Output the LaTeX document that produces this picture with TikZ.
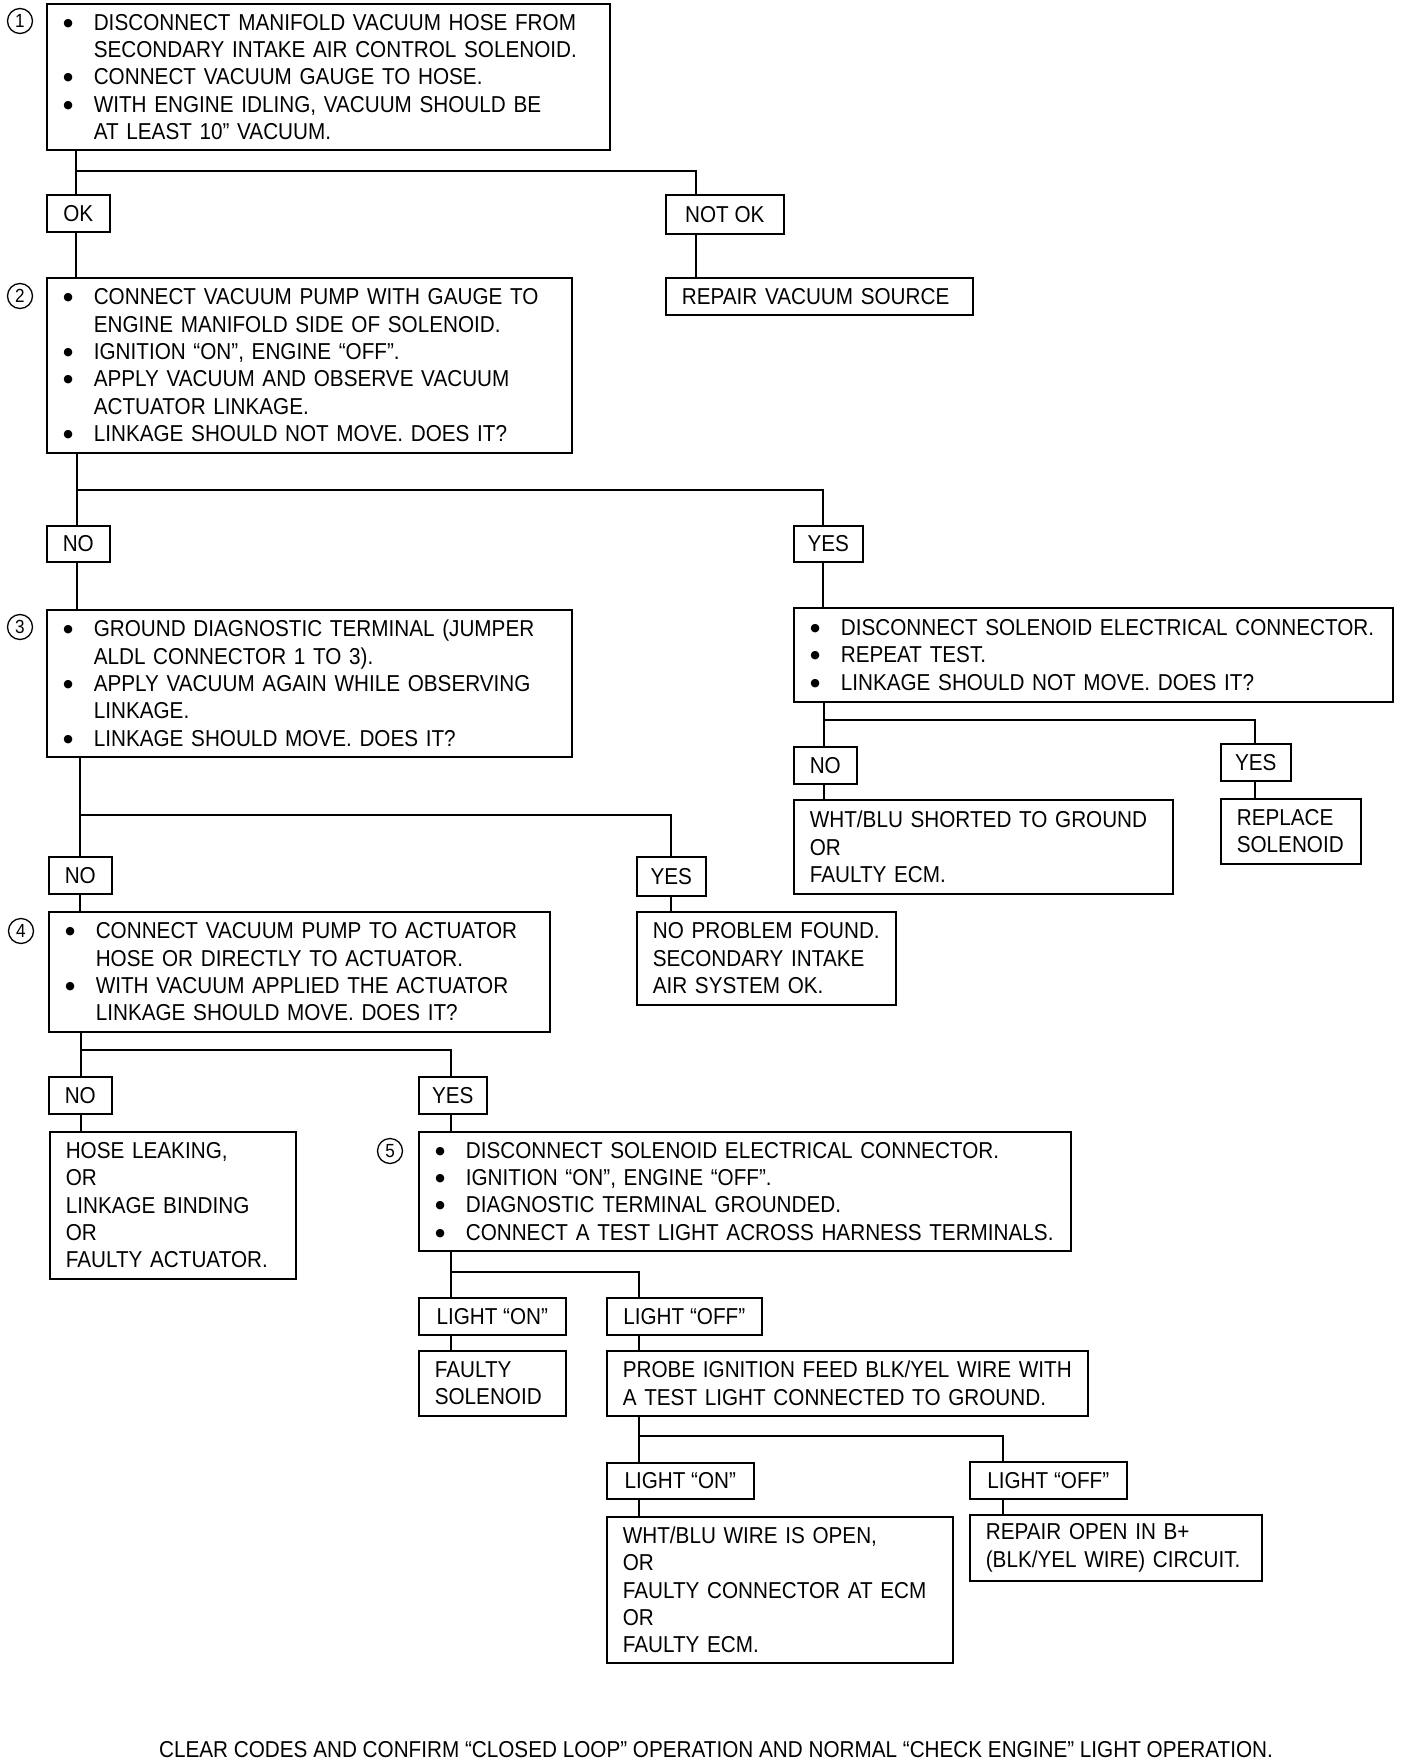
\documentclass[tikz,border=0pt]{standalone}
\usepackage{fontspec}
\setmainfont{Liberation Sans}[FakeStretch=0.9]
\newfontfamily\dvsans{DejaVu Sans}
\setlength{\parindent}{0pt}
\newcommand\bi[1]{\makebox[31pt][l]{\hspace{0.5pt}\raisebox{4pt}{\dvsans\fontsize{11}{11}\selectfont ●}}\mbox{#1}}
\newcommand\ci[1]{\hspace*{31pt}\mbox{#1}}
\newcommand\li[1]{\mbox{#1}}
\tikzset{
  txt/.style={font=\fontsize{23}{27.3}\selectfont},
  box/.style={draw, line width=1.6pt, anchor=north west, inner xsep=16pt, inner ysep=0pt, align=left, txt},
  lbl/.style={draw, line width=1.6pt, anchor=north west, inner sep=0pt, align=center, txt},
  num/.style={draw, circle, line width=1.3pt, minimum size=25pt, inner sep=0pt, font=\fontsize{19}{19}\selectfont},
  conn/.style={line width=1.6pt}
}
\begin{document}
\begin{tikzpicture}[x=1pt,y=-1pt]
\useasboundingbox (0,0) rectangle (1408,1760);
\fill[white] (0,0) rectangle (1408,1760);

% step 1
\node[num] (c1) at (20,21) {1};
\node[box, text width=531pt, minimum height=146pt] (b1) at (46,3) {%
\bi{DISCONNECT MANIFOLD VACUUM HOSE FROM}\\
\ci{SECONDARY INTAKE AIR CONTROL SOLENOID.}\\
\bi{CONNECT VACUUM GAUGE TO HOSE.}\\
\bi{WITH ENGINE IDLING, VACUUM SHOULD BE}\\
\ci{AT LEAST 10” VACUUM.}};
\node[lbl, minimum width=63pt, minimum height=37pt] (ok) at (46,194) {OK};
\node[lbl, minimum width=118pt, minimum height=39pt] (notok) at (665,194) {NOT OK};
\node[box, text width=275pt, minimum height=37pt] (repair) at (665,277) {\li{REPAIR VACUUM SOURCE}};

% step 2
\node[num] (c2) at (20,296) {2};
\node[box, text width=493pt, minimum height=175pt] (b2) at (46,277) {%
\bi{CONNECT VACUUM PUMP WITH GAUGE TO}\\
\ci{ENGINE MANIFOLD SIDE OF SOLENOID.}\\
\bi{IGNITION “ON”, ENGINE “OFF”.}\\
\bi{APPLY VACUUM AND OBSERVE VACUUM}\\
\ci{ACTUATOR LINKAGE.}\\
\bi{LINKAGE SHOULD NOT MOVE. DOES IT?}};
\node[lbl, minimum width=63pt, minimum height=36pt] (no1) at (46,525) {NO};
\node[lbl, minimum width=69pt, minimum height=36pt] (yes1) at (793,525) {YES};

% step 3
\node[num] (c3) at (20,627) {3};
\node[box, text width=493pt, minimum height=147pt] (b3) at (46,609) {%
\bi{GROUND DIAGNOSTIC TERMINAL (JUMPER}\\
\ci{ALDL CONNECTOR 1 TO 3).}\\
\bi{APPLY VACUUM AGAIN WHILE OBSERVING}\\
\ci{LINKAGE.}\\
\bi{LINKAGE SHOULD MOVE. DOES IT?}};

% right branch
\node[box, text width=567pt, minimum height=94pt] (bR) at (793,607) {%
\bi{DISCONNECT SOLENOID ELECTRICAL CONNECTOR.}\\
\bi{REPEAT TEST.}\\
\bi{LINKAGE SHOULD NOT MOVE. DOES IT?}};
\node[lbl, minimum width=63pt, minimum height=37pt] (noR) at (793,746) {NO};
\node[lbl, minimum width=70pt, minimum height=37pt] (yesR) at (1220,743) {YES};
\node[box, text width=347pt, minimum height=94pt] (whtblu) at (793,799) {%
\li{WHT/BLU SHORTED TO GROUND}\\
\li{OR}\\
\li{FAULTY ECM.}};
\node[box, text width=108pt, minimum height=65pt] (replace) at (1220,798) {%
\li{REPLACE}\\
\li{SOLENOID}};

% after step 3
\node[lbl, minimum width=63pt, minimum height=37pt] (no2) at (48,856) {NO};
\node[lbl, minimum width=69pt, minimum height=39pt] (yes2) at (636,856) {YES};
\node[box, text width=227pt, minimum height=93pt] (noprob) at (636,911) {%
\li{NO PROBLEM FOUND.}\\
\li{SECONDARY INTAKE}\\
\li{AIR SYSTEM OK.}};

% step 4
\node[num] (c4) at (21,931) {4};
\node[box, text width=469pt, minimum height=120pt] (b4) at (48,911) {%
\bi{CONNECT VACUUM PUMP TO ACTUATOR}\\
\ci{HOSE OR DIRECTLY TO ACTUATOR.}\\
\bi{WITH VACUUM APPLIED THE ACTUATOR}\\
\ci{LINKAGE SHOULD MOVE. DOES IT?}};
\node[lbl, minimum width=63pt, minimum height=37pt] (no3) at (48,1076) {NO};
\node[lbl, minimum width=68pt, minimum height=37pt] (yes3) at (418,1076) {YES};
\node[box, text width=214pt, minimum height=147pt] (hose) at (49,1131) {%
\li{HOSE LEAKING,}\\
\li{OR}\\
\li{LINKAGE BINDING}\\
\li{OR}\\
\li{FAULTY ACTUATOR.}};

% step 5
\node[num] (c5) at (390,1151) {5};
\node[box, text width=620pt, minimum height=119pt] (b5) at (418,1131) {%
\bi{DISCONNECT SOLENOID ELECTRICAL CONNECTOR.}\\
\bi{IGNITION “ON”, ENGINE “OFF”.}\\
\bi{DIAGNOSTIC TERMINAL GROUNDED.}\\
\bi{CONNECT A TEST LIGHT ACROSS HARNESS TERMINALS.}};
\node[lbl, minimum width=147pt, minimum height=37pt] (lon1) at (418,1297) {LIGHT “ON”};
\node[lbl, minimum width=155pt, minimum height=37pt] (loff1) at (606,1297) {LIGHT “OFF”};
\node[box, text width=115pt, minimum height=65pt] (faulty) at (418,1350) {%
\li{FAULTY}\\
\li{SOLENOID}};
\node[box, text width=449pt, minimum height=65pt] (probe) at (606,1350) {%
\li{PROBE IGNITION FEED BLK/YEL WIRE WITH}\\
\li{A TEST LIGHT CONNECTED TO GROUND.}};
\node[lbl, minimum width=147pt, minimum height=36pt] (lon2) at (606,1462) {LIGHT “ON”};
\node[lbl, minimum width=157pt, minimum height=37pt] (loff2) at (969,1461) {LIGHT “OFF”};
\node[box, text width=314pt, minimum height=146pt] (whtopen) at (606,1516) {%
\li{WHT/BLU WIRE IS OPEN,}\\
\li{OR}\\
\li{FAULTY CONNECTOR AT ECM}\\
\li{OR}\\
\li{FAULTY ECM.}};
\node[box, text width=260pt, minimum height=66pt] (repairopen) at (969,1514) {%
\li{REPAIR OPEN IN B+}\\
\li{(BLK/YEL WIRE) CIRCUIT.}};

\node[txt, anchor=base, inner sep=0pt] (foot) at (716,1757) {CLEAR CODES AND CONFIRM “CLOSED LOOP” OPERATION AND NORMAL “CHECK ENGINE” LIGHT OPERATION.};

% connectors
\coordinate (j1a) at (76,171);  \coordinate (j1b) at (696,171);
\draw[conn] (b1.south -| j1a) -- (ok.north -| j1a);
\draw[conn] (j1a) -- (j1b) -- (notok.north -| j1b);
\draw[conn] (ok.south -| j1a) -- (b2.north -| j1a);
\draw[conn] (notok.south -| j1b) -- (repair.north -| j1b);

\coordinate (j2a) at (77,490);  \coordinate (j2b) at (823,490);
\draw[conn] (b2.south -| j2a) -- (no1.north -| j2a);
\draw[conn] (j2a) -- (j2b) -- (yes1.north -| j2b);
\draw[conn] (no1.south -| j2a) -- (b3.north -| j2a);
\draw[conn] (yes1.south -| j2b) -- (bR.north -| j2b);

\coordinate (jRa) at (824,720);  \coordinate (jRb) at (1255,720);
\draw[conn] (bR.south -| jRa) -- (noR.north -| jRa);
\draw[conn] (jRa) -- (jRb) -- (yesR.north -| jRb);
\draw[conn] (noR.south -| jRa) -- (whtblu.north -| jRa);
\draw[conn] (yesR.south -| jRb) -- (replace.north -| jRb);

\coordinate (j3a) at (80,815);  \coordinate (j3b) at (671,815);
\draw[conn] (b3.south -| j3a) -- (no2.north -| j3a);
\draw[conn] (j3a) -- (j3b) -- (yes2.north -| j3b);
\draw[conn] (no2.south -| j3a) -- (b4.north -| j3a);
\draw[conn] (yes2.south -| j3b) -- (noprob.north -| j3b);

\coordinate (j4a) at (81,1050);  \coordinate (j4b) at (451,1050);
\draw[conn] (b4.south -| j4a) -- (no3.north -| j4a);
\draw[conn] (j4a) -- (j4b) -- (yes3.north -| j4b);
\draw[conn] (no3.south -| j4a) -- (hose.north -| j4a);
\draw[conn] (yes3.south -| j4b) -- (b5.north -| j4b);

\coordinate (j5a) at (451,1272);  \coordinate (j5b) at (639,1272);
\draw[conn] (b5.south -| j5a) -- (lon1.north -| j5a);
\draw[conn] (j5a) -- (j5b) -- (loff1.north -| j5b);
\draw[conn] (lon1.south -| j5a) -- (faulty.north -| j5a);
\draw[conn] (loff1.south -| j5b) -- (probe.north -| j5b);

\coordinate (j6a) at (639,1436);  \coordinate (j6b) at (1003,1436);
\draw[conn] (probe.south -| j6a) -- (lon2.north -| j6a);
\draw[conn] (j6a) -- (j6b) -- (loff2.north -| j6b);
\draw[conn] (lon2.south -| j6a) -- (whtopen.north -| j6a);
\draw[conn] (loff2.south -| j6b) -- (repairopen.north -| j6b);
\end{tikzpicture}
\end{document}
